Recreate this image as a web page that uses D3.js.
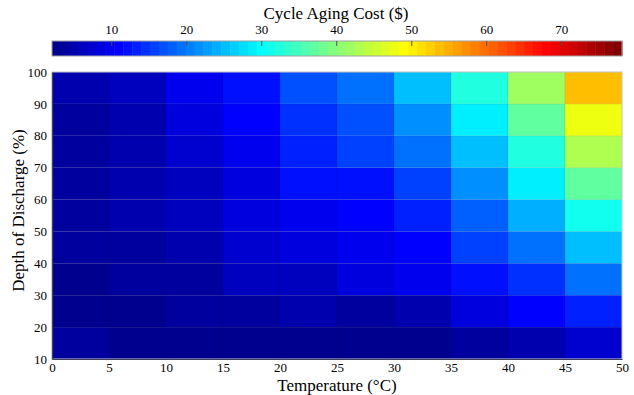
<!DOCTYPE html>
<html>
<head>
<meta charset="utf-8">
<script src="https://cdn.jsdelivr.net/npm/d3@7/dist/d3.min.js"></script>
<style>
  html, body { margin: 0; padding: 0; background: #fff; }
  svg { display: block; font-family: "Liberation Serif", "Times New Roman", serif; }
</style>
</head>
<body>
<svg id="chart" width="634" height="395"></svg>
<script>
// Temperature bins (lower edges, °C) and depth-of-discharge bins (lower edges, %)
const temps = [0, 5, 10, 15, 20, 25, 30, 35, 40, 45];
const dods = [10, 20, 30, 40, 50, 60, 70, 80, 90];

// Cycle aging cost ($): one row per DoD bin (10–20 first), one value per temperature bin
const cost10 = [3.3, 2.9, 2.8, 2.7, 2.5, 3.0, 2.6, 3.9, 5.5, 7.4];
const cost20 = [2.9, 2.7, 4.0, 3.8, 5.2, 4.2, 5.2, 8.6, 11.0, 13.4];
const cost30 = [2.7, 3.9, 3.8, 6.3, 6.8, 8.6, 9.8, 12.2, 14.6, 19.3];
const cost40 = [3.8, 4.1, 5.6, 7.0, 8.4, 10.0, 11.0, 15.8, 19.3, 25.3];
const cost50 = [4.0, 5.3, 6.8, 8.7, 9.8, 11.0, 13.4, 18.2, 24.1, 31.2];
const cost60 = [3.9, 4.5, 6.3, 8.6, 12.2, 12.2, 15.8, 21.7, 28.9, 37.2];
const cost70 = [4.0, 5.4, 7.4, 9.8, 13.4, 15.8, 19.3, 25.3, 32.4, 43.1];
const cost80 = [4.0, 5.1, 8.6, 11.0, 14.6, 17.0, 21.7, 28.9, 37.2, 47.9];
const cost90 = [5.1, 6.3, 9.8, 12.2, 17.0, 19.3, 25.3, 32.4, 41.9, 53.8];
const costRows = [cost10, cost20, cost30, cost40, cost50, cost60, cost70, cost80, cost90];

// Colour limits and colorbar ticks
const colorLimits = [2.1, 78.1];
const colorTicks = [10, 20, 30, 40, 50, 60, 70];
const xTicks = [0, 5, 10, 15, 20, 25, 30, 35, 40, 45, 50];
const yTicks = [10, 20, 30, 40, 50, 60, 70, 80, 90, 100];

// Classic 64-level jet colormap
function jet64() {
  const out = [];
  for (let i = 1; i <= 64; i++) {
    let r, g, b;
    if (i <= 24) r = 0; else if (i <= 40) r = (i - 24) / 16; else if (i <= 56) r = 1; else r = 1 - (i - 56) / 16;
    if (i <= 8) g = 0; else if (i <= 24) g = (i - 8) / 16; else if (i <= 40) g = 1; else if (i <= 56) g = 1 - (i - 40) / 16; else g = 0;
    if (i <= 8) b = (i + 8) / 16; else if (i <= 24) b = 1; else if (i <= 40) b = 1 - (i - 24) / 16; else b = 0;
    out.push(d3.rgb(r * 255, g * 255, b * 255).formatHex());
  }
  return out;
}
const jet = jet64();

const svg = d3.select("#chart");
const margin = { left: 52, right: 12, top: 72, bottom: 36 };
const W = 634, H = 395;
const plotW = W - margin.left - margin.right;
const plotH = H - margin.top - margin.bottom;
const serif = "Liberation Serif, Times New Roman, serif";

const x = d3.scaleLinear().domain([0, 50]).range([margin.left, margin.left + plotW]);
const y = d3.scaleLinear().domain([10, 100]).range([margin.top + plotH, margin.top]);
const color = d3.scaleQuantize().domain(colorLimits).range(jet);

// Heatmap cells
const cells = [];
costRows.forEach((row, r) => row.forEach((v, c) => cells.push({ t: temps[c], d: dods[r], v })));
svg.append("g").selectAll("rect").data(cells).join("rect")
  .attr("x", d => x(d.t))
  .attr("y", d => y(d.d + 10))
  .attr("width", d => x(d.t + 5) - x(d.t))
  .attr("height", d => y(d.d) - y(d.d + 10))
  .attr("fill", d => color(d.v))
  .attr("stroke", "rgba(0,0,0,0.07)")
  .attr("stroke-width", 0.8);

// Plot frame
svg.append("rect")
  .attr("x", margin.left).attr("y", margin.top)
  .attr("width", plotW).attr("height", plotH)
  .attr("fill", "none").attr("stroke", "#c8c8c8").attr("stroke-width", 1);

// Axes
const xAxis = d3.axisBottom(x).tickValues(xTicks).tickSize(0).tickPadding(4).tickFormat(d3.format("d"));
const gx = svg.append("g").attr("transform", `translate(0,${margin.top + plotH})`).call(xAxis);
gx.select(".domain").attr("stroke", "#404060").attr("stroke-width", 1.2);
gx.selectAll("text").attr("font-size", 13).attr("fill", "#000").attr("font-family", serif);

const yAxis = d3.axisLeft(y).tickValues(yTicks).tickSize(0).tickPadding(5).tickFormat(d3.format("d"));
const gy = svg.append("g").attr("transform", `translate(${margin.left},0)`).call(yAxis);
gy.select(".domain").attr("stroke", "#404060").attr("stroke-width", 1.2);
gy.selectAll("text").attr("font-size", 13).attr("fill", "#000").attr("font-family", serif);

// Axis titles
svg.append("text")
  .attr("x", x(25)).attr("y", 391)
  .attr("text-anchor", "middle").attr("font-size", 17)
  .text("Temperature (°C)");

svg.append("text")
  .attr("transform", `translate(24,${margin.top + plotH / 2 - 5}) rotate(-90)`)
  .attr("text-anchor", "middle").attr("font-size", 17)
  .text("Depth of Discharge (%)");

// Colorbar
const cbTop = 41, cbH = 15;
const cbX = d3.scaleLinear().domain(colorLimits).range([52, 622]);
const step = (colorLimits[1] - colorLimits[0]) / jet.length;
svg.append("g").selectAll("rect").data(jet).join("rect")
  .attr("x", (d, i) => cbX(colorLimits[0] + i * step))
  .attr("y", cbTop)
  .attr("width", (d, i) => cbX(colorLimits[0] + (i + 1) * step) - cbX(colorLimits[0] + i * step) + 0.5)
  .attr("height", cbH)
  .attr("fill", d => d);

svg.append("rect")
  .attr("x", cbX(colorLimits[0])).attr("y", cbTop)
  .attr("width", cbX(colorLimits[1]) - cbX(colorLimits[0])).attr("height", cbH)
  .attr("fill", "none").attr("stroke", "#a0a0a0").attr("stroke-width", 1);

const cbAxis = d3.axisTop(cbX).tickValues(colorTicks).tickSize(-5).tickPadding(7).tickFormat(d3.format("d"));
const gcb = svg.append("g").attr("transform", `translate(0,${cbTop})`).call(cbAxis);
gcb.select(".domain").remove();
gcb.selectAll(".tick line").attr("stroke", "#505050");
gcb.selectAll("text").attr("font-size", 13).attr("fill", "#000").attr("font-family", serif);

svg.append("text")
  .attr("x", 336).attr("y", 19)
  .attr("text-anchor", "middle").attr("font-size", 17)
  .text("Cycle Aging Cost ($)");
</script>
</body>
</html>
